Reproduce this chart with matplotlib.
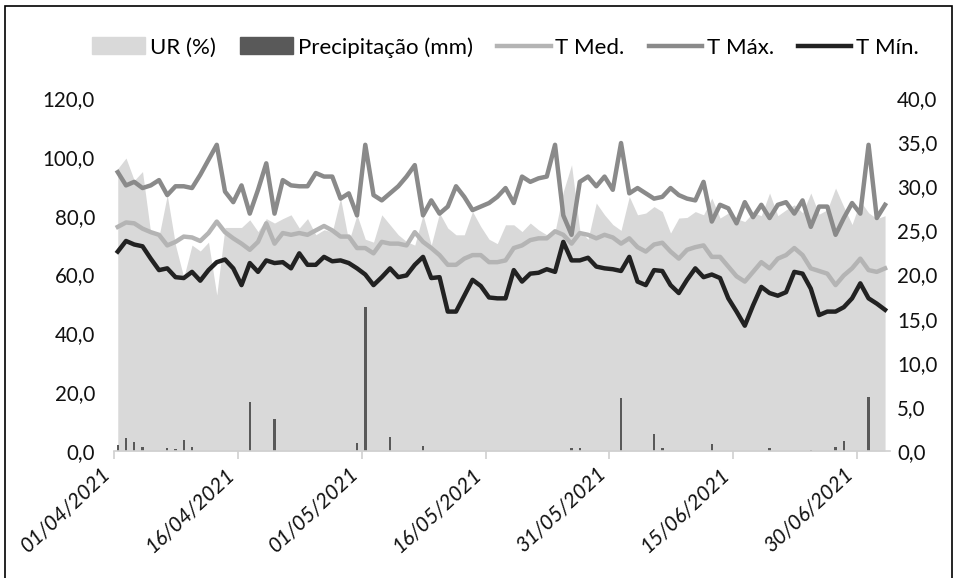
import pandas as pd
import numpy as np
import matplotlib.pyplot as plt
import matplotlib.dates as mdates
from matplotlib.lines import Line2D
from matplotlib.patches import Patch, Rectangle
from matplotlib.transforms import ScaledTranslation

plt.rcParams['font.family'] = ['Lato', 'DejaVu Sans']

dates = pd.date_range(start='2021-04-01', end='2021-07-03')

ur = [96, 99.6, 92, 95, 74, 73, 87, 70, 59, 70, 68, 71, 53, 76, 76, 76,
      78.6, 74.6, 79, 77.5, 79, 80.3, 75.8, 79, 73.5, 75.2, 74.5, 86, 71.2, 80.3,
      72, 71, 80.3, 76.9, 73.5, 71.2, 70, 80.3, 70, 80.9, 75.8, 73.5, 73.5, 81.4,
      76.3, 72, 70.5, 76.9, 76.9, 74.6, 77.5, 75.2, 73.5, 74.6, 88.2, 97.3, 75, 72,
      84.3, 80.3, 77, 75, 86.5, 80.3, 80.9, 83.1, 81.4, 74.1, 79.2, 79.4, 81.4,
      80.3, 86, 79.2, 80.9, 79, 78, 81, 80, 87.7, 80, 82, 83.7, 81, 87.7, 80.5,
      82, 89.4, 83, 77, 85, 81, 79, 80]

# precipitation (mm): day index -> value
chuva_dias = [0, 1, 2, 3, 6, 7, 8, 9, 16, 19, 29, 30, 33, 37, 55, 56, 61, 65, 66,
              72, 79, 84, 87, 88, 91]
chuva_mm = [2.0, 4.3, 2.9, 1.2, 0.9, 0.7, 3.7, 1.2, 16.8, 10.9, 2.8, 48.8, 4.6, 1.8,
            1.1, 1.1, 18.1, 5.8, 1.1, 2.4, 0.9, 0.5, 1.2, 3.4, 18.5]

t_max = [31.6, 30.1, 30.5, 29.8, 30.1, 30.7, 29.0, 30.0, 30.0, 29.8, 31.3, 33.0,
         34.7, 29.4, 28.2, 30.1, 26.9, 29.6, 32.6, 26.9, 30.7, 30.1, 30.0, 30.0,
         31.5, 31.1, 31.1, 28.6, 29.2, 26.7, 34.7, 29.0, 28.4, 29.2, 30.0, 31.1,
         32.4, 26.7, 28.4, 26.9, 27.7, 30.0, 28.8, 27.3, 27.7, 28.1, 28.8, 29.8,
         28.1, 31.1, 30.5, 30.9, 31.1, 34.7, 26.7, 24.5, 30.5, 31.1, 30.0, 31.1,
         29.6, 34.9, 29.2, 29.8, 29.2, 28.6, 28.8, 29.8, 29.0, 28.6, 28.4, 30.5,
         26.0, 27.9, 27.5, 25.8, 28.2, 26.5, 27.9, 26.4, 27.9, 28.2, 26.9, 28.4,
         25.4, 27.7, 27.7, 24.5, 26.4, 28.1, 26.9, 34.7, 26.4, 27.9]

t_med = [25.4, 25.9, 25.8, 25.2, 24.8, 24.5, 23.3, 23.7, 24.3, 24.2, 23.8, 24.7,
         26.0, 24.8, 24.1, 23.5, 22.8, 23.7, 25.8, 23.5, 24.7, 24.5, 24.7, 24.5,
         25.0, 25.5, 25.0, 24.3, 24.3, 23.0, 23.0, 22.4, 23.7, 23.5, 23.5, 23.3,
         24.8, 23.7, 23.0, 22.2, 21.1, 21.1, 21.8, 22.2, 22.2, 21.4, 21.4, 21.6,
         23.0, 23.3, 23.9, 24.1, 24.1, 24.9, 24.5, 23.5, 24.7, 24.5, 24.1, 24.5,
         24.2, 23.5, 24.1, 23.1, 22.6, 23.4, 23.6, 22.6, 21.8, 22.8, 23.1, 23.3,
         22.0, 22.0, 20.9, 19.8, 19.2, 20.3, 21.4, 20.7, 21.8, 22.2, 23.0, 22.2,
         20.7, 20.4, 20.1, 18.8, 19.9, 20.7, 21.8, 20.5, 20.3, 20.7]

t_min = [22.6, 23.8, 23.4, 23.2, 21.8, 20.5, 20.7, 19.7, 19.6, 20.3, 19.3, 20.5,
         21.4, 21.7, 20.7, 18.8, 21.3, 20.3, 21.6, 21.3, 21.4, 20.7, 22.4, 21.1,
         21.1, 22.0, 21.5, 21.6, 21.3, 20.7, 20.0, 18.8, 19.7, 20.7, 19.7, 19.9,
         21.1, 22.0, 19.6, 19.7, 15.8, 15.8, 17.6, 19.4, 18.7, 17.4, 17.3, 17.3,
         20.5, 19.2, 20.1, 20.2, 20.6, 20.3, 23.7, 21.6, 21.6, 21.9, 20.9, 20.7,
         20.6, 20.4, 22.0, 19.2, 18.8, 20.5, 20.4, 18.8, 17.9, 19.4, 20.7, 19.7,
         20.0, 19.6, 17.3, 15.8, 14.2, 16.5, 18.6, 17.9, 17.6, 18.0, 20.3, 20.1,
         18.4, 15.4, 15.8, 15.8, 16.3, 17.3, 19.0, 17.3, 16.7, 16.0]

tick_datas = pd.date_range(start='2021-04-01', periods=7, freq='15D')

c_ur = '#d9d9d9'
c_chuva = '#595959'
c_med = '#b4b4b4'
c_max = '#8a8a8a'
c_min = '#222222'

fig = plt.figure(figsize=(9.57, 5.78), dpi=100)
ax = fig.add_axes([0.1196, 0.2197, 0.8104, 0.6107])
ax2 = ax.twinx()

x = mdates.date2num(dates) + 0.4
ax.fill_between(x, ur, 0, color=c_ur, lw=0, zorder=1)
ax.bar(x[chuva_dias], chuva_mm, width=0.3, color=c_chuva, zorder=2)

ax2.plot(x, t_med, color=c_med, lw=3.2, solid_joinstyle='round', zorder=3)
ax2.plot(x, t_max, color=c_max, lw=3.2, solid_joinstyle='round', zorder=4)
ax2.plot(x, t_min, color=c_min, lw=3.2, solid_joinstyle='round', zorder=5)

x0 = mdates.date2num(dates[0])
ax.set_xlim(x0, x0 + 94)
ax.set_ylim(0, 120)
ax2.set_ylim(0, 40)
ax.set_yticks(np.arange(0, 121, 20))
ax.set_yticklabels([f'{v:.1f}'.replace('.', ',') for v in np.arange(0, 121, 20)])
ax2.set_yticks(np.arange(0, 41, 5))
ax2.set_yticklabels([f'{v:.1f}'.replace('.', ',') for v in np.arange(0, 41, 5)])

ax.set_xticks(mdates.date2num(tick_datas))
ax.set_xticklabels([d.strftime('%d/%m/%Y') for d in tick_datas], rotation=43,
                   ha='right', va='top', style='italic', fontsize=15)
desloc = ScaledTranslation(15 / 100, 0, fig.dpi_scale_trans)
for lbl in ax.get_xticklabels():
    lbl.set_transform(lbl.get_transform() + desloc)

for a in (ax, ax2):
    for s in a.spines.values():
        s.set_visible(False)
ax.spines['bottom'].set_visible(True)
ax.spines['bottom'].set_color('#d0d0d0')
ax.spines['bottom'].set_linewidth(1.2)
ax.tick_params(axis='x', length=6, color='#d0d0d0', width=1.2, pad=3, labelcolor='#111111')
ax.tick_params(axis='y', length=0, labelsize=14.8, pad=14, labelcolor='#111111')
ax2.tick_params(axis='y', length=0, labelsize=14.8, pad=5, labelcolor='#111111')

handles = [Patch(color=c_ur), Patch(color=c_chuva),
           Line2D([], [], color=c_med, lw=3.2), Line2D([], [], color=c_max, lw=3.2),
           Line2D([], [], color=c_min, lw=3.2)]
labels = ['UR (%)', 'Precipitação (mm)', 'T Med.', 'T Máx.', 'T Mín.']
fig.legend(handles, labels, loc='center', bbox_to_anchor=(0.528, 0.918), ncol=5,
           frameon=False, fontsize=16, handlelength=2.4, handletextpad=0.2,
           columnspacing=1.1, handleheight=0.8)

fig.patches.append(Rectangle((0.005, -0.01), 0.99, 1.0, transform=fig.transFigure,
                             fill=False, edgecolor='black', lw=1.2))

fig.savefig('out.png', dpi=100)
